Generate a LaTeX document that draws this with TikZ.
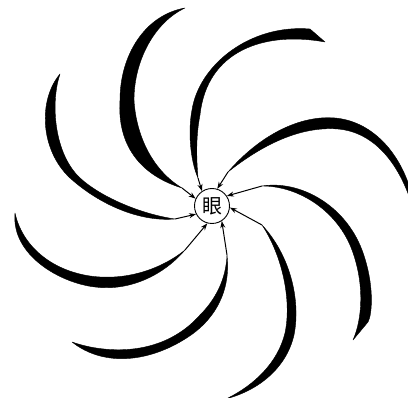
\documentclass[tikz,border=0pt]{standalone}
\usepackage{fontspec}
\newfontfamily\cjk{Noto Sans CJK SC}
\usetikzlibrary{arrows.meta}
\begin{document}
\begin{tikzpicture}[x=1pt,y=-1pt,
  arm/.style={fill=black, draw=black, line width=0.4pt, line join=round},
  feed/.style={line width=1pt, -{Stealth[length=7pt,width=5pt]}}]
\useasboundingbox (0,0) rectangle (408,398);
\node[draw, circle, line width=0.9pt, minimum size=35pt, inner sep=0pt, fill=white] (eye) at (212,206) {\cjk\fontsize{20}{20}\selectfont 眼};
% arm 1
\coordinate (m1) at (182,188);
\fill[arm] (m1) .. controls (140,175) and (117,145) .. (120,100) .. controls (120,55) and (145,15) .. (185,8) .. controls (155,22) and (134,60) .. (134,100) .. controls (136,135) and (152,170) .. (m1) -- cycle;
\draw[feed] (m1) -- (eye.156);
% arm 2
\coordinate (m2) at (198,178);
\fill[arm] (m2) .. controls (190,160) and (188,130) .. (192,110) .. controls (199,65) and (250,24) .. (310,29) -- (325,42) .. controls (265,31) and (207,50) .. (200,115) .. controls (195,140) and (197,165) .. (m2) -- cycle;
\draw[feed] (m2) -- (eye.124);
% arm 3
\coordinate (m3) at (175,219);
\fill[arm] (m3) .. controls (140,222) and (100,205) .. (70,178) .. controls (40,150) and (38,100) .. (60,74) .. controls (51,100) and (53,150) .. (78,176) .. controls (98,196) and (140,214) .. (m3) -- cycle;
\draw[feed] (m3) -- (eye.-153);
% arm 4
\coordinate (m4) at (228,172);
\fill[arm] (m4) .. controls (260,135) and (300,115) .. (335,118) .. controls (370,121) and (400,150) .. (412,195) -- (412,205) .. controls (398,160) and (372,132) .. (338,129) .. controls (300,126) and (262,145) .. (m4) -- cycle;
\draw[feed] (m4) -- (eye.73);
% arm 5
\coordinate (m5) at (262,186);
\fill[arm] (m5) .. controls (300,180) and (345,205) .. (362,250) .. controls (375,285) and (372,315) .. (368,322) -- (353,340) .. controls (362,320) and (365,285) .. (352,250) .. controls (338,212) and (300,186) .. (m5) -- cycle;
\draw[feed] (m5) -- (eye.34);
% arm 6
\coordinate (m6) at (262,225);
\fill[arm] (m6) .. controls (290,255) and (301,300) .. (294,335) .. controls (286,370) and (255,393) .. (221,400) -- (226,399) .. controls (255,385) and (278,362) .. (285,333) .. controls (292,300) and (282,255) .. (m6) -- cycle;
\draw[feed] (m6) -- (eye.-5);
% arm 7
\coordinate (m7) at (227,255);
\fill[arm] (m7) .. controls (231,290) and (216,320) .. (185,339) .. controls (150,361) and (105,368) .. (72,342) .. controls (100,352) and (160,360) .. (200,315) .. controls (215,300) and (226,280) .. (m7) -- cycle;
\draw[feed] (m7) -- (eye.-57);
% arm 8
\coordinate (m8) at (185,250);
\fill[arm] (m8) .. controls (160,279) and (125,291) .. (95,287) .. controls (60,283) and (11,255) .. (15,213) .. controls (22,245) and (50,270) .. (90,276) .. controls (125,281) and (160,270) .. (m8) -- cycle;
\draw[feed] (m8) -- (eye.-105);
\end{tikzpicture}
\end{document}
